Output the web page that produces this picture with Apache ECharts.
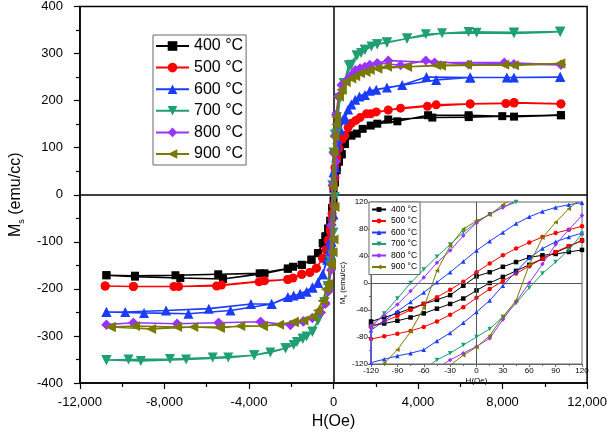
<!DOCTYPE html>
<html><head><meta charset="utf-8">
<script src="https://cdn.jsdelivr.net/npm/echarts@6/dist/echarts.min.js"></script>
<style>html,body{margin:0;padding:0;background:#fff}#c{width:610px;height:435px}</style>
</head><body><div id="c"></div>
<script>
// ---------- data ----------
const temps = ['400 °C', '500 °C', '600 °C', '700 °C', '800 °C', '900 °C'];
const xTicks = [-12000, -8000, -4000, 0, 4000, 8000, 12000];
const yTicks = [-400, -300, -200, -100, 0, 100, 200, 300, 400];

// main loops: descending branch followed by ascending branch (H in Oe, Ms in emu/cc)
const h400 = [10760, 8540, 6390, 4475, 3020, 2070, 1380, 843, 537, 383, 250, 150, 70, 0, -70, -150, -250, -380, -506, -736, -1043, -1503, -1917, -2161, -3264, -5228, -7250, -9393, -10745,
  -10745, -9393, -7480, -5457, -3494, -2161, -1503, -1043, -736, -506, -380, -250, -150, -70, 0, 70, 150, 250, 383, 537, 843, 1100, 1760, 2590, 4675, 6400, 7985, 10760];
const m400 = [169, 166, 169, 169, 156, 151, 140, 126, 108, 86, 72, 58, 38, 12, -28, -55, -72, -90, -103, -124, -138, -149, -153, -157, -167, -179, -177, -174, -171,
  -171, -172, -171, -169, -167, -157, -149, -138, -124, -103, -88, -72, -56, -34, -12, 26, 52, 70, 86, 108, 126, 130, 147, 160, 164, 165, 167, 169];

const h500 = [10760, 8540, 8155, 6467, 4858, 3172, 2023, 1563, 1057, 690, 400, 250, 150, 70, 0, -70, -150, -250, -352, -506, -813, -1119, -1503, -1917, -2161, -3264, -5303, -7326, -9471, -10805,
  -10805, -9471, -7556, -5533, -3525, -2161, -1503, -1119, -813, -506, -352, -250, -150, -70, 0, 70, 150, 250, 400, 537, 843, 1257, 1762, 2590, 4444, 6467, 8540, 10760];
const m500 = [193, 196, 194, 193, 191, 184, 176, 172, 158, 143, 120, 100, 82, 58, 16, -40, -72, -96, -117, -135, -156, -165, -169, -177, -180, -183, -192, -195, -195, -194,
  -194, -195, -195, -194, -185, -180, -169, -165, -156, -135, -117, -98, -78, -52, -22, 36, 74, 98, 118, 126, 152, 164, 172, 180, 188, 193, 195, 193];

const h600 = [10727, 8538, 6467, 4398, 3250, 2023, 1487, 1027, 690, 450, 300, 180, 90, 0, -90, -180, -300, -506, -736, -997, -1272, -1578, -1885, -2928, -3908, -5900, -7923, -9855, -10745,
  -10745, -8966, -6866, -4874, -2928, -2161, -1578, -997, -736, -506, -300, -180, -90, 0, 90, 180, 300, 537, 843, 1226, 1716, 2528, 4858, 6467, 8200, 10727];
const m600 = [250, 249, 249, 250, 233, 223, 212, 202, 181, 160, 140, 118, 94, 48, -56, -100, -135, -169, -187, -197, -206, -211, -214, -232, -232, -242, -246, -249, -249,
  -249, -251, -253, -246, -232, -217, -211, -197, -187, -169, -138, -116, -100, -42, 58, 105, 138, 164, 192, 209, 221, 228, 244, 249, 249, 250];

const h700 = [10727, 8538, 6773, 5135, 3480, 2528, 2069, 1793, 1487, 1103, 843, 490, 300, 150, 60, 0, -60, -150, -276, -429, -736, -997, -1272, -1456, -1732, -2268, -2989, -3755, -4981, -6974, -9117, -10745,
  -10745, -9701, -7738, -5716, -3755, -2268, -1885, -1456, -997, -736, -429, -276, -150, -60, 0, 60, 150, 300, 490, 720, 1103, 1303, 1487, 2069, 2528, 3480, 4368, 6390, 8538, 10727];
const m700 = [346, 343, 344, 343, 332, 323, 320, 315, 308, 296, 276, 237, 205, 165, 128, 90, 20, -140, -194, -228, -267, -291, -301, -306, -313, -326, -335, -341, -346, -350, -353, -351,
  -351, -350, -349, -346, -341, -326, -319, -306, -291, -267, -228, -194, -150, -128, -80, -5, 130, 205, 237, 275, 296, 301, 308, 320, 324, 332, 341, 346, 345, 347];

const h800 = [10760, 8538, 6390, 4368, 3172, 2069, 1487, 1027, 644, 383, 230, 120, 50, 0, -50, -120, -230, -383, -600, -1000, -1425, -2038, -3448, -5440, -7402, -9471, -10745,
  -10745, -9471, -7402, -5440, -3448, -2038, -1425, -1000, -600, -383, -230, -120, -50, 0, 50, 120, 230, 383, 644, 843, 1257, 1716, 2590, 4782, 8078, 10760];
const m800 = [276, 278, 277, 285, 275, 280, 272, 265, 244, 233, 209, 170, 125, 89, 20, -65, -200, -230, -250, -262, -270, -277, -270, -272, -274, -272, -276,
  -276, -272, -274, -272, -270, -277, -268, -262, -250, -232, -205, -160, -125, -94, -26, 70, 209, 233, 244, 254, 269, 276, 285, 281, 281, 276];

const h900 = [10727, 8538, 6314, 4858, 3480, 2528, 2069, 1716, 1257, 843, 567, 383, 260, 120, 45, 0, -45, -120, -260, -352, -506, -736, -966, -1425, -1885, -2575, -3341, -4414, -5379, -6634, -8630, -10543,
  -10543, -9393, -7402, -5379, -3341, -1885, -966, -506, -352, -260, -120, -45, 0, 45, 120, 260, 383, 567, 1027, 1517, 2069, 3480, 5089, 8078, 10727];
const m900 = [279, 275, 276, 275, 272, 272, 268, 265, 258, 247, 240, 223, 209, 165, 124, 92, 18, -150, -190, -201, -225, -246, -260, -267, -270, -276, -279, -279, -283, -281, -285, -281,
  -281, -279, -281, -281, -279, -271, -260, -225, -200, -190, -145, -122, -95, -26, 150, 209, 223, 240, 252, 261, 268, 272, 274, 276, 279];

// inset (low field) loops
const insetXTicks = [-120, -90, -60, -30, 0, 30, 60, 90, 120];
const insetYTicks = [-120, -80, -40, 0, 40, 80, 120];
const inHDown = [120, 105, 90, 75, 60, 45, 30, 15, 0, -15, -30, -45, -60, -75, -90, -105, -120];
const inHUp = [-120, -105, -90, -75, -60, -45, -30, -15, 0, 15, 30, 45, 60, 75, 90, 105, 120];
const in400Down = [49, 46, 43, 41, 38, 31, 24, 16, 10, -4, -18, -25, -31, -38, -45, -51, -57];
const in400Up = [-63, -60, -56, -51, -45, -38, -31, -23, -11, 0, 9, 18, 27, 36, 45, 54, 63];
const in500Down = [84, 79, 74, 68, 60, 51, 41, 29, 16, 2, -10, -21, -31, -40, -49, -57, -65];
const in500Up = [-83, -79, -75, -71, -65, -57, -47, -36, -22, -9, 3, 14, 25, 36, 46, 55, 63];
const in600Down = [119, 116, 112, 106, 98, 88, 75, 62, 48, 32, 16, 1, -14, -28, -42, -56, -70];
const in600Up = [-118, -113, -108, -104, -99, -86, -74, -59, -43, -26, -4, 17, 37, 51, 61, 68, 74];
const in700Down = [152, 147, 141, 134, 128, 120, 112, 102, 90, 75, 57, 39, 20, 0, -23, -45, -66];
const in700Up = [-175, -165, -155, -142, -128, -114, -104, -92, -80, -68, -50, -30, -7, 14, 31, 49, 73];
const in800Down = [150, 145, 140, 134, 128, 122, 112, 102, 89, 70, 48, 30, 8, -12, -32, -48, -63];
const in800Up = [-170, -160, -150, -140, -135, -126, -114, -104, -94, -82, -54, -28, 0, 28, 57, 79, 100];
const in900Down = [165, 155, 150, 146, 138, 128, 116, 101, 92, 80, 55, 18, -37, -72, -99, -119, -135];
const in900Up = [-175, -165, -155, -145, -135, -130, -122, -107, -95, -78, -50, -26, 27, 67, 90, 110, 126];

// ---------- styles ----------
const colors = ['#000000', '#ff0000', '#1a3cff', '#1f9f72', '#9933ff', '#7a7a00'];
const symbols = ['rect', 'circle', 'triangle', 'triangle', 'diamond', 'triangle'];
const rotations = [0, 0, 0, 180, 0, 90];
const sizes = [8, 9, 10, 10, 10, 10];
const FONT = 'Liberation Sans, Arial, sans-serif';

const mainH = [h400, h500, h600, h700, h800, h900];
const mainM = [m400, m500, m600, m700, m800, m900];
const inDown = [in400Down, in500Down, in600Down, in700Down, in800Down, in900Down];
const inUp = [in400Up, in500Up, in600Up, in700Up, in800Up, in900Up];

function pairs(h, m) { return h.map((x, i) => [x, m[i]]); }

const series = [];
temps.forEach((t, i) => {
  const s = {
    type: 'line', name: t, xAxisIndex: 0, yAxisIndex: 0,
    data: pairs(mainH[i], mainM[i]),
    symbol: symbols[i], symbolRotate: rotations[i], symbolSize: sizes[i],
    showSymbol: true, showAllSymbol: true,
    lineStyle: { color: colors[i], width: 1.6 }, itemStyle: { color: colors[i] },
    animation: false, z: 3 + i
  };
  if (i === 0) {
    s.markLine = {
      silent: true, symbol: 'none', label: { show: false }, animation: false,
      lineStyle: { color: '#000', width: 1.5, type: 'solid' },
      data: [{ yAxis: 0 }, { xAxis: 0 }]
    };
  }
  series.push(s);
});
temps.forEach((t, i) => {
  const s = {
    type: 'line', name: 'i' + i, xAxisIndex: 1, yAxisIndex: 1,
    data: pairs(inHDown, inDown[i]).concat(pairs(inHUp, inUp[i])),
    symbol: symbols[i], symbolRotate: rotations[i], symbolSize: 4.5,
    showSymbol: true, showAllSymbol: true, clip: true,
    lineStyle: { color: colors[i], width: 1 }, itemStyle: { color: colors[i] },
    animation: false, z: 3 + i
  };
  if (i === 0) {
    s.markLine = {
      silent: true, symbol: 'none', label: { show: false }, animation: false,
      lineStyle: { color: '#555', width: 1, type: 'solid' },
      data: [{ yAxis: 0 }, { xAxis: 0 }]
    };
  }
  series.push(s);
});

const chart = echarts.init(document.getElementById('c'), null, { renderer: 'canvas' });
chart.setOption({
  animation: false,
  textStyle: { fontFamily: FONT },
  grid: [
    { left: 71, right: 18, top: 5, bottom: 46, show: true, borderColor: '#000', borderWidth: 1.5 },
    { left: 371, right: 28, top: 202, bottom: 71, show: true, borderColor: '#666', borderWidth: 1, backgroundColor: '#fff' }
  ],
  xAxis: [
    {
      type: 'value', gridIndex: 0, min: xTicks[0], max: xTicks[xTicks.length - 1], interval: 4000,
      axisLine: { onZero: false, lineStyle: { color: '#000', width: 1.5 } },
      axisTick: { length: 6, lineStyle: { color: '#000', width: 1.2 } },
      minorTick: { show: true, splitNumber: 2, length: 4, lineStyle: { color: '#000', width: 1.2 } },
      splitLine: { show: false },
      axisLabel: { fontSize: 13, color: '#000', margin: 13, fontFamily: FONT },
      name: 'H(Oe)', nameLocation: 'middle', nameGap: 31,
      nameTextStyle: { fontSize: 16, color: '#000', fontFamily: FONT }
    },
    {
      type: 'value', gridIndex: 1, min: insetXTicks[0], max: insetXTicks[insetXTicks.length - 1], interval: 30,
      axisLine: { onZero: false, lineStyle: { color: '#666', width: 1 } },
      axisTick: { length: 3, lineStyle: { color: '#666' } },
      minorTick: { show: true, splitNumber: 2, length: 2, lineStyle: { color: '#666' } },
      splitLine: { show: false },
      axisLabel: { fontSize: 8, color: '#000', margin: 3, fontFamily: FONT },
      name: 'H(Oe)', nameLocation: 'middle', nameGap: 13,
      nameTextStyle: { fontSize: 8, color: '#000', fontFamily: FONT }
    }
  ],
  yAxis: [
    {
      type: 'value', gridIndex: 0, min: yTicks[0], max: yTicks[yTicks.length - 1], interval: 100,
      axisLine: { onZero: false, lineStyle: { color: '#000', width: 1.5 } },
      axisTick: { length: 6, lineStyle: { color: '#000', width: 1.2 } },
      minorTick: { show: true, splitNumber: 2, length: 4, lineStyle: { color: '#000', width: 1.2 } },
      splitLine: { show: false },
      axisLabel: { fontSize: 13, color: '#000', margin: 17, fontFamily: FONT },
      name: '{a|M}{b|s}{a| (emu/cc)}', nameLocation: 'middle', nameGap: 37,
      nameTextStyle: {
        color: '#000', fontFamily: FONT,
        rich: {
          a: { fontSize: 16, color: '#000', fontFamily: FONT, lineHeight: 20 },
          b: { fontSize: 9, color: '#000', fontFamily: FONT, lineHeight: 20, verticalAlign: 'bottom', padding: [8, 0, 0, 0] }
        }
      }
    },
    {
      type: 'value', gridIndex: 1, min: insetYTicks[0], max: insetYTicks[insetYTicks.length - 1], interval: 40,
      axisLine: { onZero: false, lineStyle: { color: '#666', width: 1 } },
      axisTick: { length: 3, lineStyle: { color: '#666' } },
      minorTick: { show: true, splitNumber: 2, length: 2, lineStyle: { color: '#666' } },
      splitLine: { show: false },
      axisLabel: { fontSize: 8, color: '#000', margin: 3, fontFamily: FONT },
      name: '{a|M}{b|s}{a| (emu/cc)}', nameLocation: 'middle', nameGap: 16,
      nameTextStyle: {
        color: '#000', fontFamily: FONT,
        rich: {
          a: { fontSize: 8, color: '#000', fontFamily: FONT, lineHeight: 10 },
          b: { fontSize: 5, color: '#000', fontFamily: FONT, lineHeight: 10, verticalAlign: 'bottom', padding: [4, 0, 0, 0] }
        }
      }
    }
  ],
  legend: [
    {
      data: temps, orient: 'vertical', left: 153, top: 35,
      itemWidth: 33, itemHeight: 12, itemGap: 5.6,
      textStyle: { fontSize: 16, color: '#000', fontFamily: FONT, lineHeight: 16 },
      borderColor: '#666', borderWidth: 1, padding: [3, 3, 3, 2],
      backgroundColor: '#fff', selectedMode: false
    },
    {
      data: ['i0', 'i1', 'i2', 'i3', 'i4', 'i5'], orient: 'vertical', left: 369, top: 202,
      itemWidth: 14, itemHeight: 6, itemGap: 2.5,
      formatter: n => temps[+n.slice(1)],
      textStyle: { fontSize: 8.5, color: '#000', fontFamily: FONT, lineHeight: 9 },
      borderColor: '#666', borderWidth: 1, padding: [3, 3, 3, 2],
      backgroundColor: '#fff', selectedMode: false
    }
  ],
  series: series
});
</script>
</body></html>
